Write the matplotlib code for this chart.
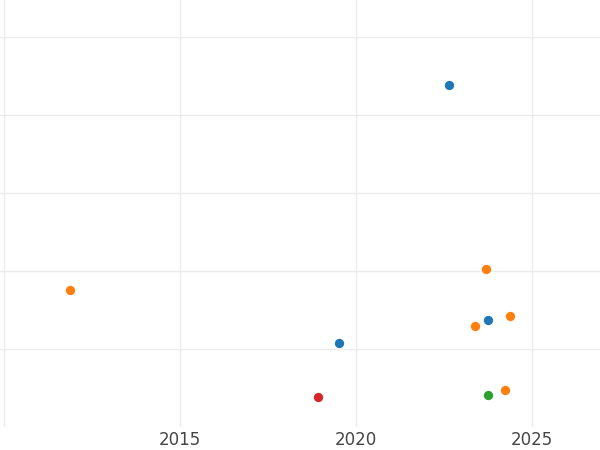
import matplotlib
matplotlib.use("Agg")
import matplotlib.pyplot as plt

# Data (x: year, y: arbitrary units on gridline scale)
blue_x = [2022.64, 2023.76, 2019.52]
blue_y = [4.385, 1.376, 1.077]
orange_x = [2023.69, 2011.875, 2024.38, 2023.37, 2024.23]
orange_y = [2.026, 1.756, 1.42, 1.295, 0.474]
green_x = [2023.76]
green_y = [0.414]
red_x = [2018.93]
red_y = [0.385]
xticks = [2015, 2020, 2025]

fig = plt.figure(figsize=(6, 4.5), dpi=100)
ax = fig.add_axes([0, 23 / 450, 1, 427 / 450])
ax.set_xlim(2009.89, 2026.93)
ax.set_ylim(0, 5.474)

for xs, ys, c in [(blue_x, blue_y, "#1f77b4"), (orange_x, orange_y, "#ff7f0e"),
                  (green_x, green_y, "#2ca02c"), (red_x, red_y, "#d62728")]:
    ax.scatter(xs, ys, s=45, color=c, zorder=3, linewidths=0)

ax.set_xticks([2010] + xticks)
ax.set_xticklabels([""] + [str(t) for t in xticks])
ax.set_yticks([1, 2, 3, 4, 5])
ax.set_yticklabels([])
ax.grid(True, color="#ebebeb", linewidth=1.0)
ax.set_axisbelow(True)
for s in ax.spines.values():
    s.set_visible(False)
ax.tick_params(axis="both", length=0, labelsize=12, labelcolor="#444444", pad=3)

fig.savefig("out.png", dpi=100)
